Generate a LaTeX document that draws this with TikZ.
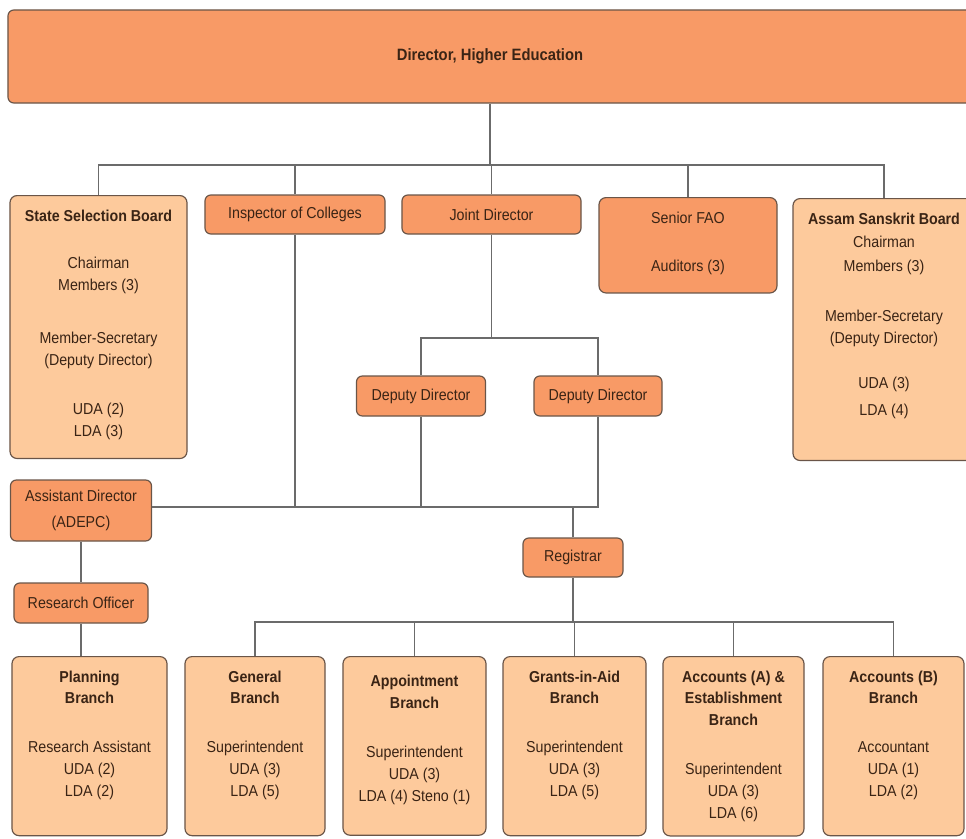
\documentclass[tikz,border=0pt]{standalone}
\usepackage{fontspec}
\setmainfont{Liberation Sans}[FakeStretch=0.9]
\usetikzlibrary{positioning,calc}
\definecolor{darkfill}{HTML}{F89A66}
\definecolor{lightfill}{HTML}{FDCA9C}
\definecolor{boxline}{HTML}{6A5548}
\definecolor{wiregray}{HTML}{6B6B6B}
\definecolor{inktext}{HTML}{3A2415}
\tikzset{
  postbox/.style={draw=boxline, fill=darkfill, rounded corners=5pt, line width=1pt, text=inktext, align=center, inner sep=0pt},
  unitbox/.style={draw=boxline, fill=lightfill, rounded corners=6pt, line width=1pt, text=inktext, align=center, anchor=north, inner xsep=2pt, inner ysep=0.42cm},
  staffbox/.style={unitbox, fill=darkfill},
  wire/.style={draw=wiregray, line width=1.1pt}
}

\begin{document}
\begin{tikzpicture}[x=0.03cm, y=-0.03cm, every node/.style={font=\fontsize{13.5pt}{18.7pt}\selectfont}]
  \useasboundingbox (0,0) rectangle (966,839);
  \clip (0,0) rectangle (966,839);
  % bus levels
  \coordinate (topbus) at (0,165);
  \coordinate (jdbus) at (0,338);
  \coordinate (midbus) at (0,507);
  \coordinate (lowbus) at (0,622);

  \node[postbox, minimum width=28.92cm, minimum height=2.79cm, font=\fontsize{14pt}{18.7pt}\selectfont\bfseries] (dir) at (490,56.5) {Director, Higher Education};

  % second row
  \node[unitbox, minimum width=5.31cm] (ssb) at (98.5,195) {\textbf{State Selection Board}\\[7.8mm]Chairman\\Members (3)\\[9.3mm]Member-Secretary\\(Deputy Director)\\[8.1mm]UDA (2)\\LDA (3)\rule[-0.24cm]{0pt}{0pt}};
  \node[postbox, minimum width=5.4cm, minimum height=1.17cm] (insp) at (295,214.5) {Inspector of Colleges};
  \node[postbox, minimum width=5.37cm, minimum height=1.17cm] (jd) at (491.5,214.5) {Joint Director};
  \node[staffbox, minimum width=5.34cm] (fao) at (688,197) {Senior FAO\\[8.1mm]Auditors (3)\rule[-0.21cm]{0pt}{0pt}};
  \node[unitbox, minimum width=5.46cm] (asb) at (884,198) {\textbf{Assam Sanskrit Board}\\[0.6mm]Chairman\\[0.6mm]Members (3)\\[8.4mm]Member-Secretary\\(Deputy Director)\\[6.9mm]UDA (3)\\[1.5mm]LDA (4)\rule[-0.93cm]{0pt}{0pt}};

  % deputies and offices
  \node[postbox, minimum width=3.87cm, minimum height=1.2cm] (dep1) at (421,396) {Deputy Director};
  \node[postbox, minimum width=3.84cm, minimum height=1.2cm] (dep2) at (598,396) {Deputy Director};
  \node[postbox, minimum width=4.23cm, minimum height=1.83cm] (ad) at (81,510.5) {Assistant Director\\[1mm](ADEPC)};
  \node[postbox, minimum width=4.02cm, minimum height=1.2cm] (ro) at (81,603) {Research Officer};
  \node[postbox, minimum width=3.0cm, minimum height=1.17cm] (reg) at (573,557.5) {Registrar};

  % branches
  \node[unitbox, minimum width=4.65cm] (plan) at (89.5,656) {\textbf{Planning}\\\textbf{Branch}\\[8.1mm]Research Assistant\\UDA (2)\\LDA (2)\rule[-0.75cm]{0pt}{0pt}};
  \node[unitbox, minimum width=4.2cm] (gen) at (255,656) {\textbf{General}\\\textbf{Branch}\\[8.1mm]Superintendent\\UDA (3)\\LDA (5)\rule[-0.75cm]{0pt}{0pt}};
  \node[unitbox, minimum width=4.29cm] (appt) at (414.5,656) {\rule{0pt}{0.48cm}\textbf{Appointment}\\\textbf{Branch}\\[8.1mm]Superintendent\\UDA (3)\\LDA (4) Steno (1)\rule[-0.6cm]{0pt}{0pt}};
  \node[unitbox, minimum width=4.29cm] (grant) at (574.5,656) {\textbf{Grants-in-Aid}\\\textbf{Branch}\\[8.1mm]Superintendent\\UDA (3)\\LDA (5)\rule[-0.75cm]{0pt}{0pt}};
  \node[unitbox, minimum width=4.23cm] (acca) at (733.5,656) {\textbf{Accounts (A) \&}\\\textbf{Establishment}\\\textbf{Branch}\\[8.1mm]Superintendent\\UDA (3)\\LDA (6)\rule[-0.1cm]{0pt}{0pt}};
  \node[unitbox, minimum width=4.23cm] (accb) at (893.5,656) {\textbf{Accounts (B)}\\\textbf{Branch}\\[8.1mm]Accountant\\UDA (1)\\LDA (2)\rule[-0.75cm]{0pt}{0pt}};

  % connectors
  \draw[wire] (dir.south) -- (dir.south |- topbus);
  \draw[wire] (ssb.north) |- (asb.north |- topbus) -- (asb.north);
  \foreach \n in {insp,jd,fao}
    \draw[wire] (\n.north) -- (\n.north |- topbus);
  \draw[wire] (jd.south) -- (jd.south |- jdbus);
  \draw[wire] (dep1.north) |- (dep2.north |- jdbus) -- (dep2.north);
  \draw[wire] (ad.east |- midbus) -| (dep2.south);
  \foreach \n in {insp,dep1}
    \draw[wire] (\n.south) -- (\n.south |- midbus);
  \draw[wire] (reg.north) -- (reg.north |- midbus);
  \draw[wire] (ad.south) -- (ro.north);
  \draw[wire] (ro.south) -- (ro.south |- plan.north);
  \draw[wire] (reg.south) -- (reg.south |- lowbus);
  \draw[wire] (gen.north) |- (accb.north |- lowbus) -- (accb.north);
  \foreach \n in {appt,grant,acca}
    \draw[wire] (\n.north) -- (\n.north |- lowbus);
\end{tikzpicture}
\end{document}
